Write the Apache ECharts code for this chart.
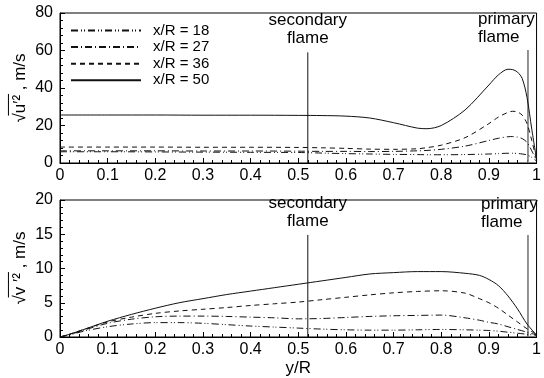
<!DOCTYPE html>
<html>
<head>
<meta charset="utf-8">
<script src="https://cdn.jsdelivr.net/npm/echarts@6/dist/echarts.min.js"></script>
<style>
  html, body { margin: 0; padding: 0; background: #fff; }
  #chart { width: 544px; height: 378px; }
</style>
</head>
<body>
<div id="chart"></div>
<script>
// Radial position y/R for the axial fluctuation profiles (upper panel)
const yRU = [0, 0.1, 0.2, 0.3, 0.4, 0.5, 0.55, 0.6, 0.65, 0.7, 0.75, 0.77, 0.8, 0.85, 0.9, 0.92, 0.94, 0.95, 0.96, 0.97, 0.98, 0.99, 1.0];
// rms u' [m/s] at four axial stations
const u18 = [6.0, 6.0, 5.9, 5.8, 5.7, 5.6, 5.3, 5.0, 4.8, 4.6, 4.5, 4.4, 4.4, 4.5, 4.8, 5.0, 5.2, 5.2, 5.1, 4.8, 4.3, 3.0, 1.0];
const u27 = [6.5, 6.5, 6.5, 6.4, 6.4, 6.3, 6.2, 6.2, 6.1, 6.2, 6.5, 6.7, 7.3, 9.0, 12.0, 13.2, 14.0, 14.1, 13.8, 13.0, 11.0, 6.5, 1.0];
const u36 = [8.5, 8.5, 8.5, 8.4, 8.4, 8.3, 8.1, 7.8, 7.4, 7.3, 7.6, 8.2, 9.5, 13.5, 21.0, 24.5, 27.0, 27.6, 27.2, 25.5, 21.0, 12.0, 1.5];
const u50 = [25.6, 25.6, 25.6, 25.5, 25.5, 25.4, 25.3, 25.0, 24.0, 21.5, 18.6, 18.3, 20.0, 28.3, 41.6, 47.0, 50.0, 49.8, 48.5, 45.0, 35.0, 18.0, 2.0];

// Radial position y/R for the radial fluctuation profiles (lower panel)
const yRV = [0, 0.02, 0.05, 0.1, 0.15, 0.2, 0.25, 0.3, 0.35, 0.4, 0.45, 0.5, 0.55, 0.6, 0.65, 0.7, 0.75, 0.8, 0.85, 0.88, 0.9, 0.92, 0.94, 0.96, 0.98, 1.0];
// rms v' [m/s] at four axial stations
const v18 = [0, 0.3, 0.85, 1.5, 1.9, 2.1, 2.1, 2.0, 1.8, 1.6, 1.45, 1.3, 1.15, 1.05, 1.0, 1.0, 1.05, 1.1, 1.05, 1.0, 0.95, 0.85, 0.7, 0.55, 0.4, 0.2];
const v27 = [0, 0.35, 1.0, 2.0, 2.6, 2.95, 3.05, 3.05, 3.0, 2.9, 2.8, 2.65, 2.7, 2.85, 3.0, 3.1, 3.15, 3.2, 2.8, 2.45, 2.15, 1.9, 1.5, 1.1, 0.7, 0.3];
const v36 = [0, 0.4, 1.1, 2.2, 2.9, 3.45, 3.8, 4.05, 4.3, 4.6, 4.85, 5.1, 5.45, 5.8, 6.15, 6.45, 6.65, 6.75, 6.4, 5.6, 5.0, 4.2, 3.2, 2.2, 1.2, 0.4];
const v50 = [0, 0.4, 1.1, 2.3, 3.3, 4.2, 5.0, 5.6, 6.2, 6.7, 7.2, 7.7, 8.2, 8.7, 9.2, 9.4, 9.55, 9.55, 9.3, 9.0, 8.4, 7.5, 6.0, 4.1, 1.9, 0.3];

const stationNames = ['x/R = 18', 'x/R = 27', 'x/R = 36', 'x/R = 50'];

// Flame-front markers: radial location and height of the marker line
const secondaryFlameX = 0.52;
const primaryFlameX = 0.982;
const flameTopU = [59, 60.3];   // secondary, primary (upper panel)
const flameTopV = [14.9, 14.9]; // secondary, primary (lower panel)

// Axis titles: radical sign, overlined quantity, units
const yTitleU = ['\u221A', 'u\u2032\u00B2', ' , m/s'];
const yTitleV = ['\u221A', 'v \u2032\u00B2', ' , m/s'];

const dashTypes = [[7, 3, 1, 2, 1, 3], [7, 3, 1, 3], [5, 4], 'solid'];
const FONT = 'Liberation Sans, Arial, Helvetica, sans-serif';

function pairs(xs, ys) { return xs.map((x, i) => [x, ys[i]]); }

function profileSeries(idx, xs, ys, k) {
  return {
    name: stationNames[k],
    type: 'line',
    xAxisIndex: idx, yAxisIndex: idx,
    data: pairs(xs, ys),
    smooth: 0.3,
    symbol: 'none',
    lineStyle: { color: '#111', width: 1, type: dashTypes[k] },
    itemStyle: { color: '#111', opacity: 0 },
    z: 3
  };
}

function flameSeries(idx, x, top, text, color, width, labelPos) {
  return {
    type: 'line',
    xAxisIndex: idx, yAxisIndex: idx,
    data: [[x, 0], { value: [x, top], label: {
      show: true, formatter: text, position: labelPos,
      color: '#000', fontSize: 17, lineHeight: 18, fontFamily: FONT, align: labelPos === 'top' ? 'center' : 'left'
    } }],
    symbol: 'circle', symbolSize: 0, showSymbol: true,
    lineStyle: { color: color, width: width },
    itemStyle: { color: color },
    label: { show: false },
    silent: true, z: 2
  };
}

function xAxis(idx, withName) {
  return {
    type: 'value', gridIndex: idx, min: 0, max: 1, interval: 0.1,
    axisLine: { lineStyle: { color: '#000', width: 1 } },
    axisTick: { inside: true, length: 5, lineStyle: { color: '#000' } },
    minorTick: { show: true, splitNumber: 5, length: 3, lineStyle: { color: '#000' } },
    splitLine: { show: false },
    axisLabel: { color: '#000', fontSize: 16, fontFamily: FONT, margin: 5 },
    name: withName ? 'y/R' : '',
    nameLocation: 'middle', nameGap: 23,
    nameTextStyle: { color: '#000', fontSize: 17, fontFamily: FONT }
  };
}

function yAxis(idx, max, interval) {
  return {
    type: 'value', gridIndex: idx, min: 0, max: max, interval: interval,
    axisLine: { lineStyle: { color: '#000', width: 1 } },
    axisTick: { inside: true, length: 5, lineStyle: { color: '#000' } },
    minorTick: { show: true, splitNumber: 5, length: 3, lineStyle: { color: '#000' } },
    splitLine: { show: false },
    axisLabel: { color: '#000', fontSize: 16, fontFamily: FONT, margin: 7 }
  };
}

// Rotated axis title with an overline over the squared fluctuation
const TITLE_FS = 17;
const measureCtx = document.createElement('canvas').getContext('2d');
measureCtx.font = TITLE_FS + 'px ' + FONT;
function yTitle(parts, cx, cy) {
  const w = parts.map(p => measureCtx.measureText(p).width);
  const total = w[0] + w[1] + w[2];
  let x0 = -total / 2;
  const children = [];
  parts.forEach((p, i) => {
    children.push({
      type: 'text', x: x0, y: 0,
      style: { text: p, fill: '#000', font: TITLE_FS + 'px ' + FONT, textAlign: 'left', textVerticalAlign: 'middle' }
    });
    if (i === 1) {
      children.push({
        type: 'line',
        shape: { x1: x0 - w[0] * 0.25, y1: -TITLE_FS * 0.68, x2: x0 + w[1] + 1, y2: -TITLE_FS * 0.68 },
        style: { stroke: '#000', lineWidth: 1 }
      });
    }
    x0 += w[i];
  });
  return { type: 'group', x: cx, y: cy, rotation: Math.PI / 2, children: children };
}

const series = [];
[u18, u27, u36, u50].forEach((ys, k) => series.push(profileSeries(0, yRU, ys, k)));
[v18, v27, v36, v50].forEach((ys, k) => series.push(profileSeries(1, yRV, ys, k)));
series.push(flameSeries(0, secondaryFlameX, flameTopU[0], 'secondary\nflame', '#111', 1, 'top'));
series.push(flameSeries(0, primaryFlameX, flameTopU[1], 'primary\nflame', '#777', 1.6, [-50, -40]));
series.push(flameSeries(1, secondaryFlameX, flameTopV[0], 'secondary\nflame', '#111', 1, 'top'));
series.push(flameSeries(1, primaryFlameX, flameTopV[1], 'primary\nflame', '#777', 1.6, [-47, -40]));

const chart = echarts.init(document.getElementById('chart'), null, { renderer: 'canvas' });
chart.setOption({
  animation: false,
  backgroundColor: '#fff',
  grid: [
    { left: 60, right: 1, top: 13, height: 150, show: true, borderColor: '#000', borderWidth: 1 },
    { left: 60, right: 1, top: 200, height: 137, show: true, borderColor: '#000', borderWidth: 1 }
  ],
  xAxis: [xAxis(0, false), xAxis(1, true)],
  yAxis: [yAxis(0, 80, 20), yAxis(1, 20, 5)],
  legend: {
    data: stationNames,
    orient: 'vertical', left: 70, top: 23, padding: 0,
    itemWidth: 70, itemHeight: 16, itemGap: 1.6,
    itemStyle: { opacity: 0 },
    textStyle: { color: '#000', fontSize: 15, fontFamily: FONT, padding: [0, 0, 0, 7] }
  },
  graphic: [yTitle(yTitleU, 20, 88), yTitle(yTitleV, 20, 268)],
  series: series
});
</script>
</body>
</html>
